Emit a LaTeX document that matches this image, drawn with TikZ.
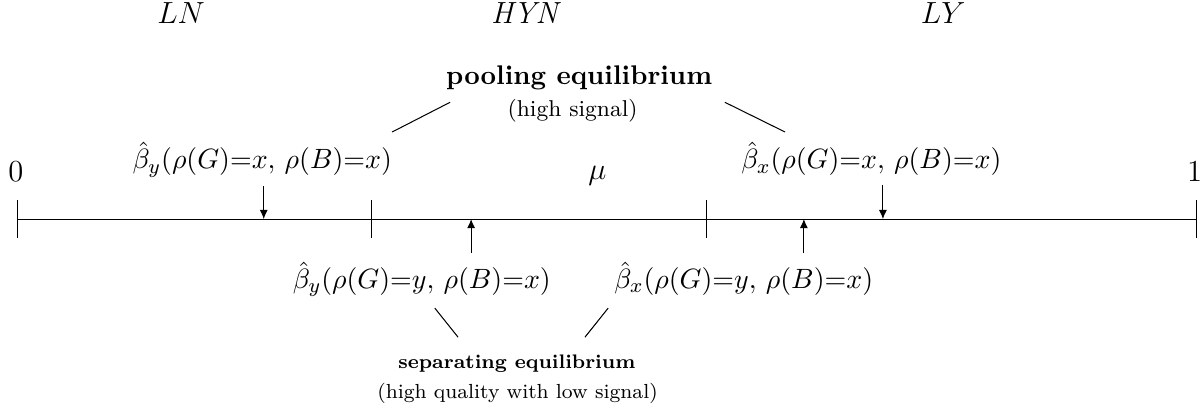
\documentclass[tikz,border=0pt]{standalone}
\usepackage{amsmath, amssymb}
\usetikzlibrary{arrows.meta, positioning}

\tikzset{
	ptr/.style={-{Latex[length=3.6pt,width=3.2pt]}},
	thrlabel/.style={font=\fontsize{11}{13}\selectfont, anchor=base},
	regionlabel/.style={font=\large, anchor=base},
	eqhead/.style={anchor=base},
	eqsub/.style={anchor=base},
}

\begin{document}
\begin{tikzpicture}
	\useasboundingbox (-0.248,-2.607) rectangle (16.345,3.021);

	% the unit interval
	\coordinate (a0) at (0,0);
	\coordinate (a1) at (16.26,0);
	\draw (a0) -- (a1);
	\foreach \x in {0,4.88,9.49,16.26}
		\draw (\x,-0.26) -- (\x,0.26);
	\node[font=\large, anchor=base] (zero) at (-0.03,0.52) {$0$};
	\node[font=\large, anchor=base] (one) at (16.23,0.52) {$1$};
	\node[font=\large, anchor=base] (mu) at (7.99,0.54) {$\mu$};

	% regions
	\node[regionlabel] (ln) at (2.25,2.69) {$LN$};
	\node[regionlabel] (hyn) at (7.02,2.69) {$\mathit{HYN}$};
	\node[regionlabel] (ly) at (12.76,2.69) {$LY$};

	% thresholds, pooling (above)
	\node[thrlabel] (byxx) at (3.37,0.69) {$\hat\beta_y(\rho(G){=}x,\,\rho(B){=}x)$};
	\node[thrlabel] (bxxx) at (11.77,0.69) {$\hat\beta_x(\rho(G){=}x,\,\rho(B){=}x)$};
	\coordinate (pby) at (3.39,0);
	\coordinate (pbx) at (11.93,0);
	\draw[ptr] (pby |- byxx.south) -- (pby);
	\draw[ptr] (pbx |- bxxx.south) -- (pbx);

	% thresholds, separating (below)
	\node[thrlabel] (byyx) at (5.57,-0.96) {$\hat\beta_y(\rho(G){=}y,\,\rho(B){=}x)$};
	\node[thrlabel] (bxyx) at (10.01,-0.96) {$\hat\beta_x(\rho(G){=}y,\,\rho(B){=}x)$};
	\coordinate (sby) at (6.25,0);
	\coordinate (sbx) at (10.84,0);
	\draw[ptr] (sby |- byyx.north) -- (sby);
	\draw[ptr] (sbx |- bxyx.north) -- (sbx);

	% equilibrium labels
	\node[eqhead, font=\fontsize{10.6}{12}\selectfont] (pool) at (7.74,1.85) {\textbf{pooling equilibrium}};
	\node[eqsub, font=\small] (poolsub) at (7.65,1.42) {(high signal)};
	\node[eqhead, font=\fontsize{7.7}{9.5}\selectfont] (sep) at (6.88,-2.06) {\textbf{separating equilibrium}};
	\node[eqsub, font=\footnotesize] (sepsub) at (6.89,-2.47) {(high quality with low signal)};

	\coordinate (pl1) at (5.16,1.20);
	\coordinate (pl2) at (5.96,1.61);
	\coordinate (pr1) at (9.75,1.61);
	\coordinate (pr2) at (10.58,1.20);
	\draw (pl1) -- (pl2);
	\draw (pr1) -- (pr2);
	\coordinate (sl1) at (5.75,-1.23);
	\coordinate (sl2) at (6.07,-1.63);
	\coordinate (sr1) at (8.14,-1.23);
	\coordinate (sr2) at (7.82,-1.63);
	\draw (sl1) -- (sl2);
	\draw (sr1) -- (sr2);
\end{tikzpicture}
\end{document}
